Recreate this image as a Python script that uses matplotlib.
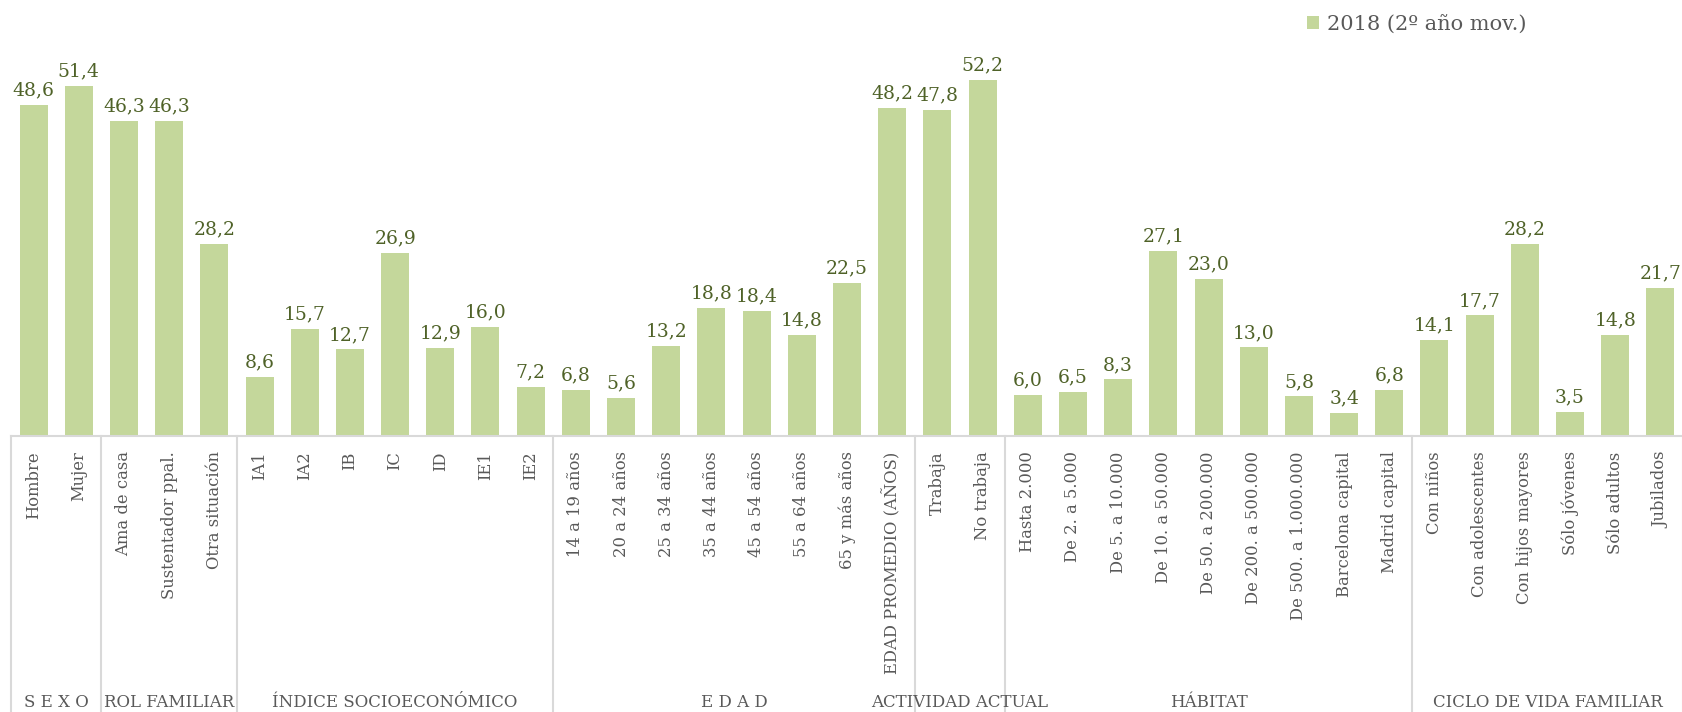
import matplotlib.pyplot as plt
import numpy as np

# datos
grupos = ["S E X O", "ROL FAMILIAR", "ÍNDICE SOCIOECONÓMICO", "E D A D",
          "ACTIVIDAD ACTUAL", "HÁBITAT", "CICLO DE VIDA FAMILIAR"]
tam_grupos = [2, 3, 7, 8, 2, 9, 6]

categorias = ["Hombre", "Mujer",
              "Ama de casa", "Sustentador ppal.", "Otra situación",
              "IA1", "IA2", "IB", "IC", "ID", "IE1", "IE2",
              "14 a 19 años", "20 a 24 años", "25 a 34 años", "35 a 44 años",
              "45 a 54 años", "55 a 64 años", "65 y más años", "EDAD PROMEDIO (AÑOS)",
              "Trabaja", "No trabaja",
              "Hasta 2.000", "De 2. a 5.000", "De 5. a 10.000", "De 10. a 50.000",
              "De 50. a 200.000", "De 200. a 500.000", "De 500. a 1.000.000",
              "Barcelona capital", "Madrid capital",
              "Con niños", "Con adolescentes", "Con hijos mayores", "Sólo jóvenes",
              "Sólo adultos", "Jubilados"]
valores = [48.6, 51.4,
           46.3, 46.3, 28.2,
           8.6, 15.7, 12.7, 26.9, 12.9, 16.0, 7.2,
           6.8, 5.6, 13.2, 18.8, 18.4, 14.8, 22.5, 48.2,
           47.8, 52.2,
           6.0, 6.5, 8.3, 27.1, 23.0, 13.0, 5.8, 3.4, 6.8,
           14.1, 17.7, 28.2, 3.5, 14.8, 21.7]
serie = "2018 (2º año mov.)"

verde = "#c4d79b"
verde_osc = "#4f6228"
gris = "#595959"
linea = "#d9d9d9"
fuente = "DejaVu Serif"

fig = plt.figure(figsize=(16.83, 7.12), dpi=100)
ax = fig.add_axes([11 / 1683, (712 - 436) / 712, 1672 / 1683, 436 / 712])

x = np.arange(len(categorias))
barras = ax.bar(x, valores, width=0.62, color=verde, label=serie)
ax.bar_label(barras, labels=[f"{v:.1f}".replace(".", ",") for v in valores],
             padding=4, color=verde_osc, fontsize=13.5, family=fuente)

ax.set_xlim(-0.5, len(categorias) - 0.5)
ax.set_ylim(0, 64)
ax.set_yticks([])
ax.set_xticks(x)
ax.set_xticklabels(categorias, rotation=90, va="top", ha="center",
                   fontsize=11.8, color=gris, family=fuente)
ax.tick_params(axis="x", length=0, pad=11)
for lado in ["top", "right", "left"]:
    ax.spines[lado].set_visible(False)
ax.spines["bottom"].set_color(linea)
ax.spines["bottom"].set_linewidth(1.5)

# separadores y nombres de grupo
trans = ax.get_xaxis_transform()
limites = np.concatenate([[0], np.cumsum(tam_grupos)]) - 0.5
for b in limites:
    ax.plot([b, b], [0, -0.64], color=linea, lw=1.5, transform=trans, clip_on=False)
for i, g in enumerate(grupos):
    centro = (limites[i] + limites[i + 1]) / 2
    ax.text(centro, -0.612, g, transform=trans, ha="center", va="center",
            fontsize=12, color=gris, family=fuente)

leg = fig.legend(loc="center left", bbox_to_anchor=(1307 / 1683, 1 - 24 / 712),
                 frameon=False, borderpad=0, borderaxespad=0,
                 handlelength=0.6, handleheight=0.6, handletextpad=0.35,
                 prop={"family": fuente, "size": 15})
for t in leg.get_texts():
    t.set_color(gris)

fig.savefig("out.png", dpi=100)
